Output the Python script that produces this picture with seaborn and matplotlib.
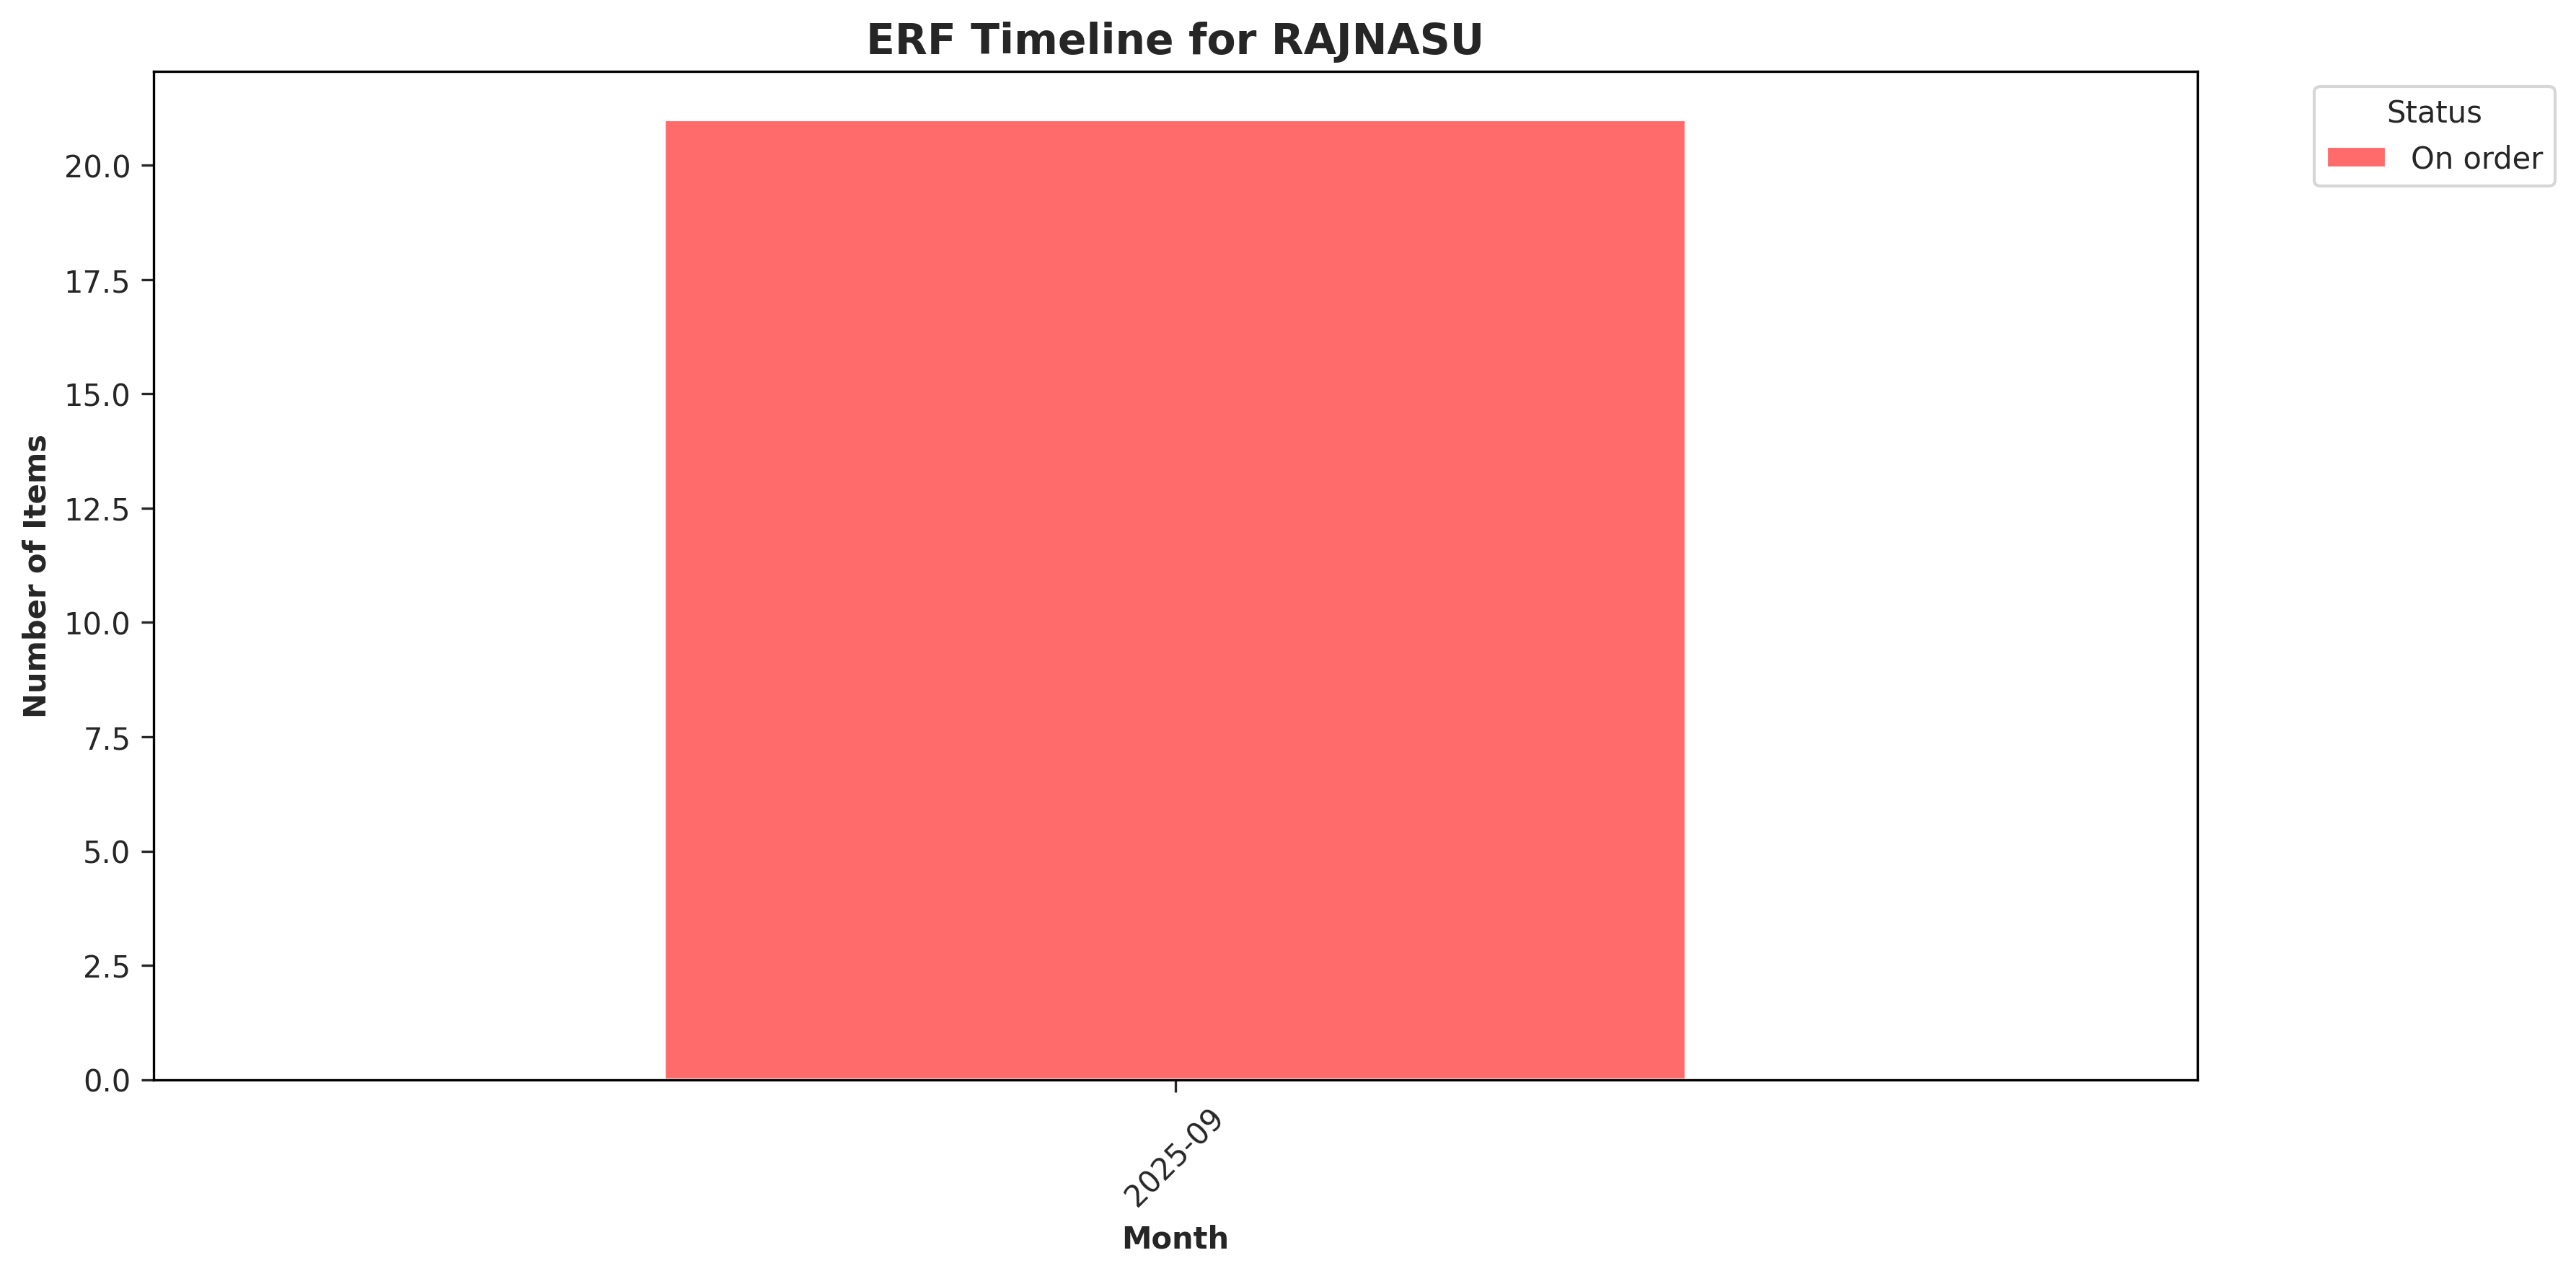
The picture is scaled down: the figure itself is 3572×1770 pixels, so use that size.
import matplotlib
matplotlib.use("Agg")
import matplotlib.pyplot as plt
import seaborn as sns
import pandas as pd

months = ["2025-09"]
statuses = ["On order"]
counts = [21]
colors = ["#FF6B6B"]

df = pd.DataFrame({"Month": months, "Status": statuses[0] * 1 and statuses, "Count": counts})

sns.set_style("white")
plt.rcParams['font.family'] = ['DejaVu Sans']
fig, ax = plt.subplots(figsize=(12, 6))
sns.barplot(data=df, x="Month", y="Count", hue="Status", palette=colors, width=0.5,
            saturation=1, ax=ax, dodge=False)
ax.set_xlim(-0.5, 0.5)
ax.set_title("ERF Timeline for RAJNASU", fontsize=14, fontweight="bold")
ax.set_xlabel("Month", fontweight="bold")
ax.set_ylabel("Number of Items", fontweight="bold")
ax.tick_params(axis="x", rotation=45, length=4, width=0.8, bottom=True)
ax.tick_params(axis="y", length=4, width=0.8, left=True)
for s in ax.spines.values():
    s.set_visible(True); s.set_color("black"); s.set_linewidth(0.8)
ax.legend(title="Status", bbox_to_anchor=(1.05, 1), loc="upper left")
plt.tight_layout()
plt.savefig("out.png", dpi=300, bbox_inches="tight")
